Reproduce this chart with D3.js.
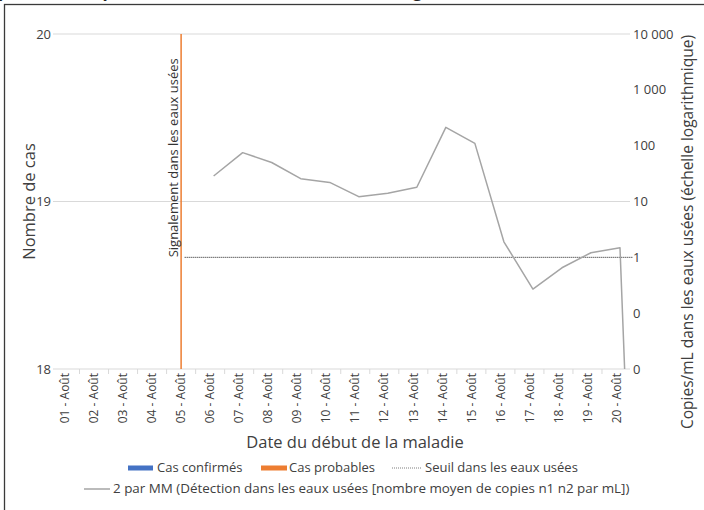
<!DOCTYPE html>
<html lang="fr">
<head>
<meta charset="utf-8">
<script src="https://cdn.jsdelivr.net/npm/d3@7/dist/d3.min.js"></script>
<style>
  html, body { margin: 0; padding: 0; background: #fff; }
  svg { display: block; font-family: "Open Sans", Lato, sans-serif; }
</style>
</head>
<body>
<svg id="chart" width="704" height="510"></svg>
<script>
// Categories: date of illness onset
const dates = ["01 - Août","02 - Août","03 - Août","04 - Août","05 - Août","06 - Août","07 - Août",
               "08 - Août","09 - Août","10 - Août","11 - Août","12 - Août","13 - Août","14 - Août",
               "15 - Août","16 - Août","17 - Août","18 - Août","19 - Août","20 - Août"];

// Case counts (no cases in the period)
const confirmedCases = [0,0,0,0,0,0,0,0,0,0,0,0,0,0,0,0,0,0,0,0];
const probableCases  = [0,0,0,0,0,0,0,0,0,0,0,0,0,0,0,0,0,0,0,0];

// Wastewater: 2-point moving average of mean n1/n2 copies per mL
const wastewaterDates  = ["06 - Août","07 - Août","08 - Août","09 - Août","10 - Août","11 - Août","12 - Août",
                          "13 - Août","14 - Août","15 - Août","16 - Août","17 - Août","18 - Août","19 - Août","20 - Août"];
const wastewaterCopies = [28.6, 75, 50, 25.6, 22, 12.2, 14, 18, 213, 110, 1.9, 0.27, 0.65, 1.21, 1.49];
const wastewaterTail   = 0;   // last reported value, below detection

// Wastewater detection threshold (copies/mL), from the signal date onward
const thresholdValue = 1;
const thresholdStart = "05 - Août";
const signalDate     = "05 - Août";
const signalLabel    = "Signalement dans les eaux usées";

// Axis ticks
const leftTicks  = [18, 19, 20];
const rightTicks = [10000, 1000, 100, 10, 1, 0.1, 0.01];
const rightTickLabels = ["10 000", "1 000", "100", "10", "1", "0", "0"];

const svg = d3.select("#chart");
const W = 704, H = 510;
const plot = { left: 53, right: 630, top: 34, bottom: 369 };
const textColor = "#404040";

// Outer frame of the figure
svg.append("rect").attr("x", 4.5).attr("y", 4.5).attr("width", W + 20).attr("height", H + 20)
  .attr("fill", "none").attr("stroke", "#3a3a3a").attr("stroke-width", 1.3);

// Figure title (runs above the frame)
svg.append("text").attr("x", -2).attr("y", -3)
  .attr("font-size", 17).attr("font-weight", 700).attr("fill", "#222")
  .text("pour les cas par date du début de la maladie et signalement dans les eaux usées");

// Scales
const x = d3.scaleBand().domain(dates).range([50.5, 631]);
const xLine = d3.scaleBand().domain(dates).range([54, 634.5]);
const yLeft = d3.scaleLinear().domain([18, 20]).range([plot.bottom, plot.top]);
const yRight = d3.scaleLog().domain([0.01, 10000]).range([plot.bottom, plot.top]).clamp(true);

// Horizontal gridlines (left axis)
svg.append("g").selectAll("line").data(leftTicks).join("line")
  .attr("x1", plot.left).attr("x2", plot.right)
  .attr("y1", d => yLeft(d)).attr("y2", d => yLeft(d))
  .attr("stroke", "#d9d9d9").attr("stroke-width", 1);

// Category tick marks
svg.append("g").selectAll("line").data(dates.slice(1)).join("line")
  .attr("x1", d => x(d)).attr("x2", d => x(d))
  .attr("y1", plot.bottom).attr("y2", plot.bottom + 5)
  .attr("stroke", "#d9d9d9");

// Left axis labels
svg.append("g").selectAll("text").data(leftTicks).join("text")
  .attr("x", 51).attr("y", d => yLeft(d)).attr("dy", "0.35em")
  .attr("text-anchor", "end").attr("font-size", 13).attr("fill", textColor)
  .text(d => d);

// Right axis labels
svg.append("g").selectAll("text").data(rightTicks).join("text")
  .attr("x", 633).attr("y", d => yRight(d)).attr("dy", "0.35em")
  .attr("font-size", 13).attr("fill", textColor)
  .text((d, i) => rightTickLabels[i]);

// Category labels (rotated)
svg.append("g").selectAll("text").data(dates).join("text")
  .attr("transform", d => `translate(${x(d) + x.bandwidth() / 2},${plot.bottom + 4}) rotate(-90)`)
  .attr("text-anchor", "end").attr("dy", "0.35em")
  .attr("font-size", 12).attr("fill", textColor)
  .text(d => d);

// Case bars (heights from the case counts)
const barW = x.bandwidth() * 0.4;
svg.append("g").selectAll("rect").data(dates).join("rect")
  .attr("x", d => x(d) + x.bandwidth() / 2 - barW / 2)
  .attr("width", barW)
  .attr("y", (d, i) => yLeft(18 + confirmedCases[i] + probableCases[i]))
  .attr("height", (d, i) => Math.max(0, plot.bottom - yLeft(18 + confirmedCases[i] + probableCases[i])))
  .attr("fill", "#4472c4");

// Signal marker line
const sx = x(signalDate) + x.bandwidth() / 2;
svg.append("line").attr("x1", sx).attr("x2", sx).attr("y1", plot.top).attr("y2", plot.bottom)
  .attr("stroke", "#ed7d31").attr("stroke-width", 1.5);
svg.append("text")
  .attr("transform", `translate(${sx - 3},${yRight(thresholdValue)}) rotate(-90)`)
  .attr("font-size", 13).attr("fill", "#333")
  .text(signalLabel);

// Threshold line
svg.append("line")
  .attr("x1", xLine(thresholdStart) + xLine.bandwidth() / 2).attr("x2", plot.right + 3)
  .attr("y1", yRight(thresholdValue)).attr("y2", yRight(thresholdValue))
  .attr("stroke", "#404040").attr("stroke-width", 1).attr("stroke-dasharray", "1.2,0.8");

// Wastewater line
const pts = wastewaterDates.map((d, i) => [xLine(d) + xLine.bandwidth() / 2, yRight(wastewaterCopies[i])]);
const lastDate = wastewaterDates[wastewaterDates.length - 1];
pts.push([xLine(lastDate) + xLine.bandwidth() * 0.66, yRight(Math.max(wastewaterTail, 0.001))]);
svg.append("path").datum(pts)
  .attr("d", d3.line())
  .attr("fill", "none").attr("stroke", "#a5a5a5").attr("stroke-width", 1.5)
  .attr("stroke-linejoin", "round");

// Axis titles
svg.append("text")
  .attr("transform", `translate(29,${(plot.top + plot.bottom) / 2}) rotate(-90)`)
  .attr("text-anchor", "middle").attr("dy", "0.35em")
  .attr("font-size", 16.5).attr("fill", textColor)
  .text("Nombre de cas");

svg.append("text")
  .attr("transform", `translate(688,232) rotate(-90)`)
  .attr("text-anchor", "middle").attr("dy", "0.35em")
  .attr("font-size", 15.5).attr("fill", textColor)
  .text("Copies/mL dans les eaux usées (échelle logarithmique)");

svg.append("text")
  .attr("x", 355).attr("y", 448)
  .attr("text-anchor", "middle")
  .attr("font-size", 16.5).attr("fill", textColor)
  .text("Date du début de la maladie");

// Legend
const legend = svg.append("g").attr("fill", textColor);
const row1 = 472, row2 = 493;
legend.append("rect").attr("x", 128).attr("y", row1 - 6.5).attr("width", 25).attr("height", 5).attr("fill", "#4472c4");
legend.append("text").attr("x", 157).attr("y", row1).attr("font-size", 13).text("Cas confirmés");
legend.append("rect").attr("x", 261).attr("y", row1 - 6.5).attr("width", 26).attr("height", 5).attr("fill", "#ed7d31");
legend.append("text").attr("x", 289).attr("y", row1).attr("font-size", 13).text("Cas probables");
legend.append("line").attr("x1", 392).attr("x2", 422).attr("y1", row1 - 4).attr("y2", row1 - 4)
  .attr("stroke", "#7f7f7f").attr("stroke-width", 1).attr("stroke-dasharray", "1,1");
legend.append("text").attr("x", 425).attr("y", row1).attr("font-size", 13).text("Seuil dans les eaux usées");
legend.append("line").attr("x1", 84).attr("x2", 110).attr("y1", row2 - 4).attr("y2", row2 - 4)
  .attr("stroke", "#a5a5a5").attr("stroke-width", 1.5);
legend.append("text").attr("x", 113).attr("y", row2).attr("font-size", 13.4)
  .text("2 par MM (Détection dans les eaux usées [nombre moyen de copies n1 n2 par mL])");
</script>
</body>
</html>
